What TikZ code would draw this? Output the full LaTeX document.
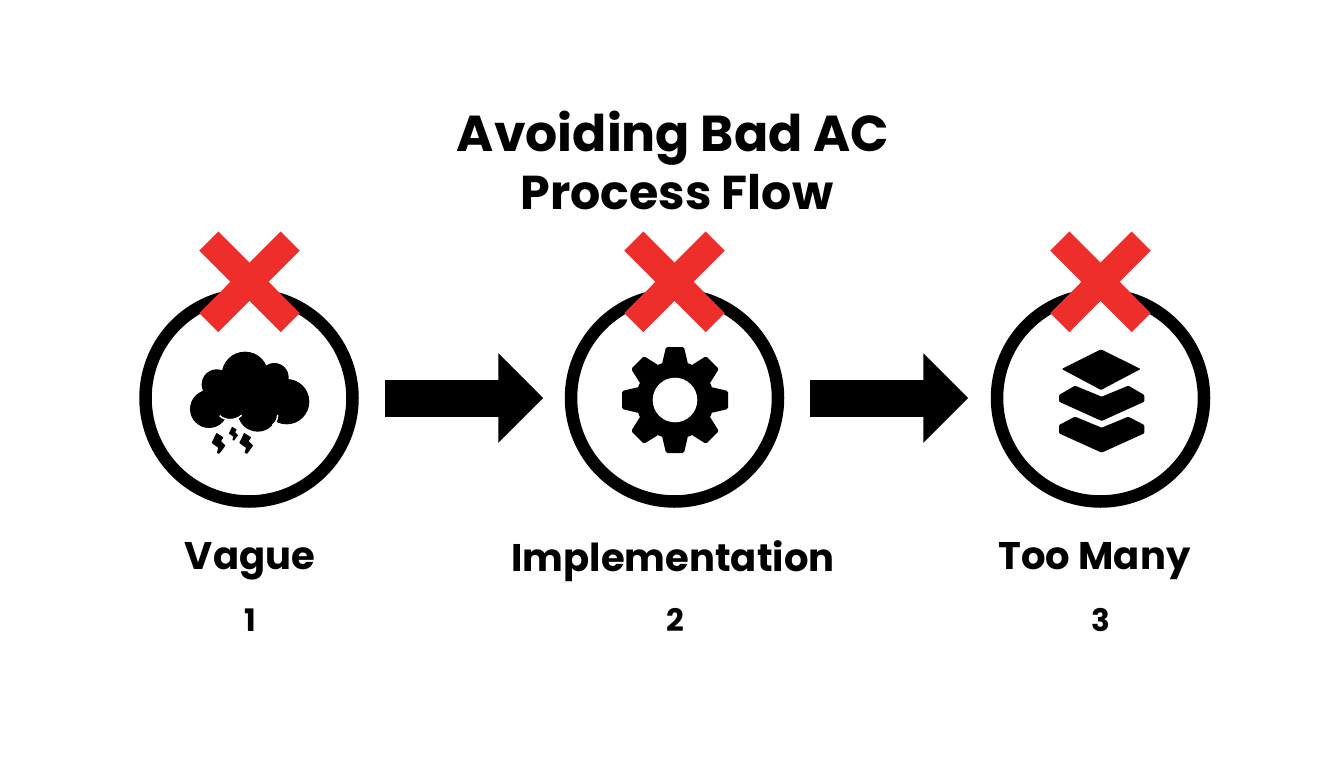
\documentclass[tikz,border=0pt]{standalone}
\usepackage{fontspec}
\setmainfont{Poppins}
\usetikzlibrary{arrows.meta,calc}
\tikzset{
    ring/.style={circle,draw=black,line width=12.5pt,minimum size=207pt,inner sep=0pt},
    flow/.style={line width=37pt,-{Triangle[length=45pt,width=87pt]},shorten <=26pt,shorten >=21.5pt},
    cross/.style={line width=27pt,draw=crossred},
    title/.style={anchor=base,font=\fontsize{50.5}{57}\selectfont\bfseries},
    label/.style={font=\fontsize{38.5}{44}\selectfont\bfseries},
    num/.style={font=\fontsize{31}{35}\selectfont\bfseries}
}
\definecolor{crossred}{HTML}{EE2E2B}
\begin{document}
\begin{tikzpicture}[x=1pt,y=-1pt]
        \useasboundingbox (0,0) rectangle (1344,768);
        \node[title] (head) at (673,151) {Avoiding Bad AC};
        \node[title,font=\fontsize{47.5}{57}\selectfont\bfseries] (sub) at (677,209) {Process Flow};
        \node[ring] (ring1) at (249,398) {};
        \node[ring] (ring2) at (674.5,398) {};
        \node[ring] (ring3) at (1100.5,398) {};
        \draw[flow] (ring1) -- (ring2);
        \draw[flow,shorten <=25.5pt,shorten >=22.5pt] (ring2) -- (ring3);
        \foreach \c in {249.5,674.5,1100.5} {
            \draw[cross] (\c-40.7,241) -- (\c+40.7,322.6);
            \draw[cross] (\c+40.7,241) -- (\c-40.7,322.6);
        }
        \begin{scope}[shift={(185,345)},x=.3333pt,y=-.3333pt]
            \fill (180,90) circle (70);
            \fill (268,97) circle (43);
            \fill (95,118) circle (45);
            \fill (72,192) circle (57);
            \fill (218,200) circle (60);
            \fill (305,170) circle (68);
            \fill (90,100) -- (300,100) -- (345,130) -- (310,225) -- (170,212) -- (135,226) -- (105,212) -- (40,150) -- cycle;
            \draw[white,line width=1.5pt] (104,212) .. controls (120,228) and (150,228) .. (170,211);
            \draw[white,line width=1.5pt] (278,210) .. controls (278,222) and (272,234) .. (262,241);
            \foreach \bx/\by/\bs in {145/266/.75,100/295/1.12,183/295/1.12} {
                \fill[shift={(\bx,\by)},scale=\bs,rounded corners=.5pt] (-5,-28) -- (14,-16) -- (7,-6) -- (19,6) -- (3,28) -- (-4,26) -- (0,12) -- (-18,-1) -- cycle;
            }
        \end{scope}
        \begin{scope}[shift={(675,400)}]
            \foreach \a in {0,45,...,315} {
                \fill[rotate=\a,rounded corners=1.5pt] (-13,-36) -- (-9,-53) -- (9,-53) -- (13,-36) -- cycle;
            }
            \fill (0,0) circle (39);
            \fill[white] (0,0) circle (22.3);
        \end{scope}
        \begin{scope}[shift={(1040,330)},x=.3333pt,y=-.3333pt,rounded corners=1pt]
            \fill (183,58) -- (302,117) -- (183,180) -- (65,117) -- cycle;
            \fill (105,167) -- (185,200) -- (265,167) -- (313,195) -- (313,215) -- (185,273) -- (57,215) -- (57,195) -- cycle;
            \fill (105,260) -- (185,293) -- (265,260) -- (313,285) -- (313,310) -- (185,368) -- (57,310) -- (57,285) -- cycle;
        \end{scope}
        \node[label] (vague) at (250,561) {Vague};
        \node[label] (impl) at (673,561) {Implementation};
        \node[label] (many) at (1094.5,561) {Too Many};
        \node[num] (n1) at (250,620) {1};
        \node[num] (n2) at (675,620) {2};
        \node[num] (n3) at (1101,620) {3};
    \end{tikzpicture}
\end{document}
